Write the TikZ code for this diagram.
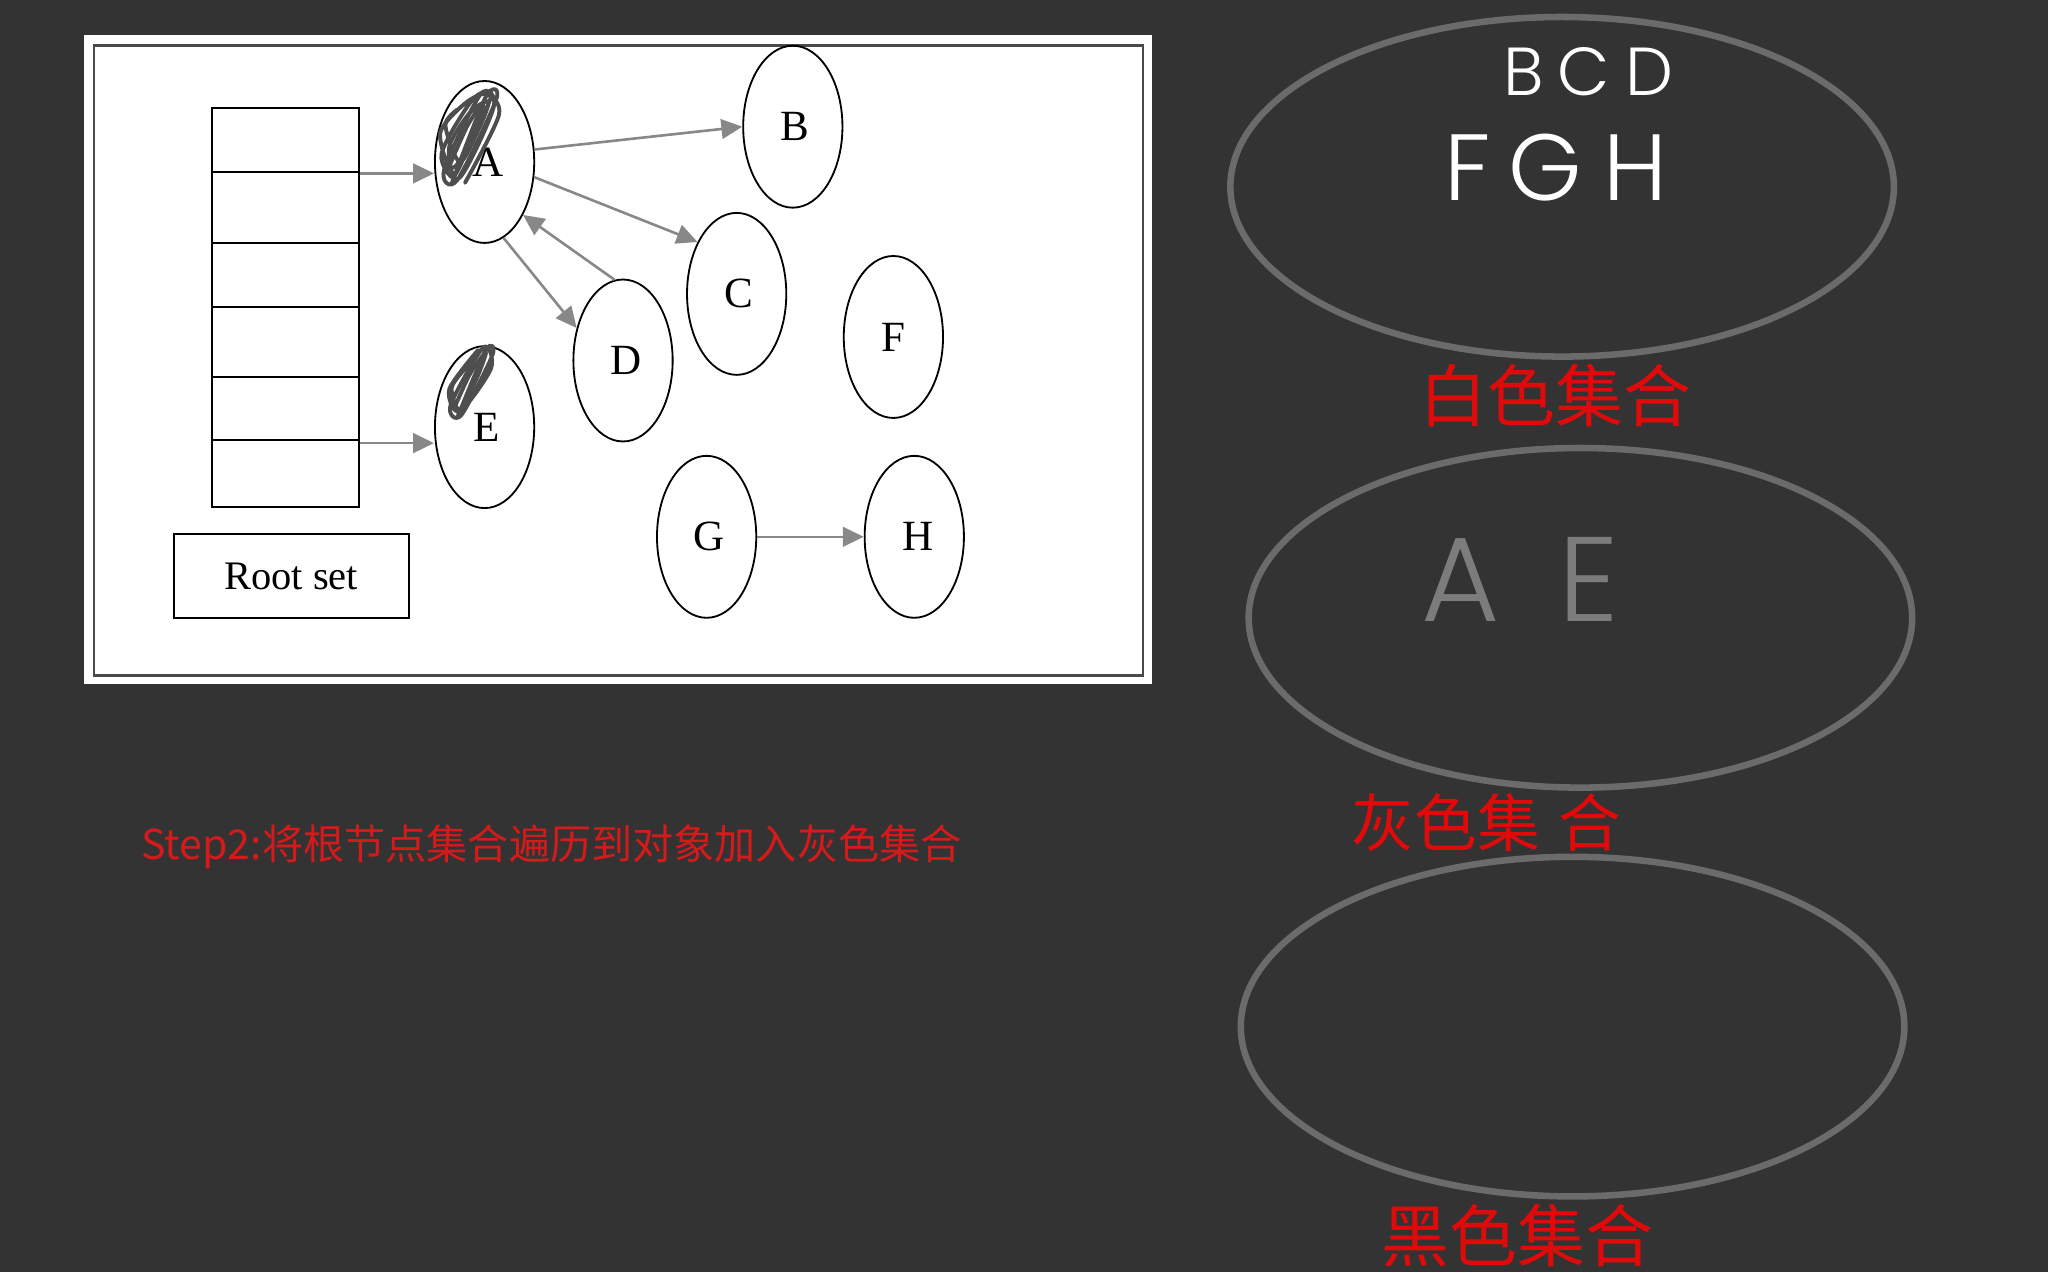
\documentclass[tikz,border=0pt]{standalone}
\usepackage{fontspec}
\setmainfont{Liberation Serif}
\newfontfamily\cjkf{Noto Sans CJK SC}
\newfontfamily\handf{Poppins Light}
\usetikzlibrary{shapes.geometric,arrows.meta}
\definecolor{bgc}{HTML}{333333}
\definecolor{ringc}{HTML}{6B6B6B}
\definecolor{aec}{HTML}{7C7C7C}
\definecolor{arrc}{HTML}{888888}
\definecolor{redc}{HTML}{E00A0A}
\definecolor{stepred}{HTML}{D41A1A}
\definecolor{scribc}{HTML}{4E4E4E}
\definecolor{framec}{HTML}{4A4A4A}
\begin{document}
\begin{tikzpicture}[x=1pt,y=-1pt,
  obj/.style={ellipse,draw=black,line width=1.4pt,minimum width=76pt,minimum height=124pt,inner sep=0pt,font=\fontsize{33}{38}\selectfont},
  cell/.style={draw=black,line width=1.5pt,minimum width=113pt,inner sep=0pt},
  rootbox/.style={draw=black,line width=1.5pt,minimum width=180pt,minimum height=64pt,inner sep=0pt,font=\fontsize{31}{36}\selectfont},
  arr/.style={draw=arrc,line width=2pt,-{Triangle[length=16pt,width=15pt]}},
  ring/.style={ellipse,draw=ringc,line width=5pt,minimum width=508pt,minimum height=260pt,inner sep=0pt},
  scrib/.style={draw=scribc,line width=3pt,line join=round,line cap=round},
  redlabel/.style={text=redc,font=\cjkf\fontsize{52}{60}\selectfont,inner sep=0pt},
  hand/.style={inner sep=0pt,font=\handf}
]
\useasboundingbox (0,0) rectangle (1568,974);
\fill[bgc] (0,0) rectangle (1568,974);
\begin{scope}
\clip (0,0) rectangle (1568,974);
% white picture panel
\fill[white] (64,27) rectangle (882,524);
\draw[framec,line width=2pt] (72,35) rectangle (875,517);
% root stack
\node[cell,minimum height=49pt] (c1) at (218.5,107.5) {};
\node[cell,minimum height=54pt] (c2) at (218.5,159) {};
\node[cell,minimum height=49pt] (c3) at (218.5,210.5) {};
\node[cell,minimum height=54pt] (c4) at (218.5,262) {};
\node[cell,minimum height=48pt] (c5) at (218.5,313) {};
\node[cell,minimum height=51pt] (c6) at (218.5,362.5) {};
\node[rootbox] (root) at (223,441) {Root set};
% objects
\node[obj] (A) at (371,124) {\hspace{6pt}A};
\node[obj] (B) at (607,97) {\hspace{3pt}B};
\node[obj] (C) at (564,225) {\hspace{3pt}C};
\node[obj] (D) at (477,276) {\hspace{4pt}D};
\node[obj] (E) at (371,327) {\hspace{3pt}E};
\node[obj] (F) at (684,258) {F};
\node[obj] (G) at (541,411) {\hspace{3pt}G};
\node[obj] (H) at (700,411) {\hspace{5pt}H};
% scribbles
\draw[scrib] plot[smooth] coordinates {(346,140) (372,74) (380,76) (350,138) (340,130) (368,72) (378,82) (352,136) (338,118) (362,76) (376,74) (348,128) (337,102) (355,80) (372,72) (382,88) (356,140)};
\draw[scrib] plot[smooth] coordinates {(342,132) (358,96) (370,80) (362,104) (348,134) (344,112) (360,86) (374,78) (366,100) (352,124) (341,96) (350,84)};
\draw[scrib] plot[smooth] coordinates {(350,320) (372,268) (377,272) (353,318) (345,310) (370,266) (376,282) (352,315) (344,298) (366,268)};
\draw[scrib] plot[smooth] coordinates {(348,312) (360,286) (372,270) (364,292) (352,314) (346,296) (362,276)};
% references
\draw[arr] (c1.south east) -- (c1.south east -| A.west);
\draw[arr] ([yshift=-3pt]c6.north east) -- ([yshift=-3pt]c6.north east -| E.west);
\draw[arr] (A.14) -- (B.west);
\draw[arr] (A.-17) -- (C.127);
\draw[arr] (A.-76) -- (D.145);
\draw[arr] (D.96) -- (A.-54);
\draw[arr] (G.east) -- (H.west);
% step text
\node[anchor=west,text=stepred,font=\cjkf\fontsize{31.5}{36}\selectfont,inner sep=0pt] (step) at (108,648) {Step2:将根节点集合遍历到对象加入灰色集合};
% sets
\node[ring] (white) at (1196,143) {};
\node[ring] (grey) at (1210,473) {};
\node[ring] (black) at (1204,786) {};
\node[hand,text=white,font=\handf\fontsize{52}{60}\selectfont] (bcd) at (1216,55) {B\hspace{10pt}C\hspace{12pt}D};
\node[hand,text=white,font=\handf\fontsize{72}{80}\selectfont] (fgh) at (1191,128) {F\hspace{14pt}G\hspace{16pt}H};
\node[hand,text=aec,font=\handf\fontsize{92}{100}\selectfont] (ae) at (1164,444) {A\hspace{45pt}E};
\node[redlabel] (wl) at (1191,303) {白色集合};
\node[redlabel,font=\cjkf\fontsize{48}{56}\selectfont] (gl) at (1138,630) {灰色集\hspace{14pt}合};
\node[redlabel] (bl) at (1162,946) {黑色集合};
\end{scope}
\end{tikzpicture}
\end{document}
